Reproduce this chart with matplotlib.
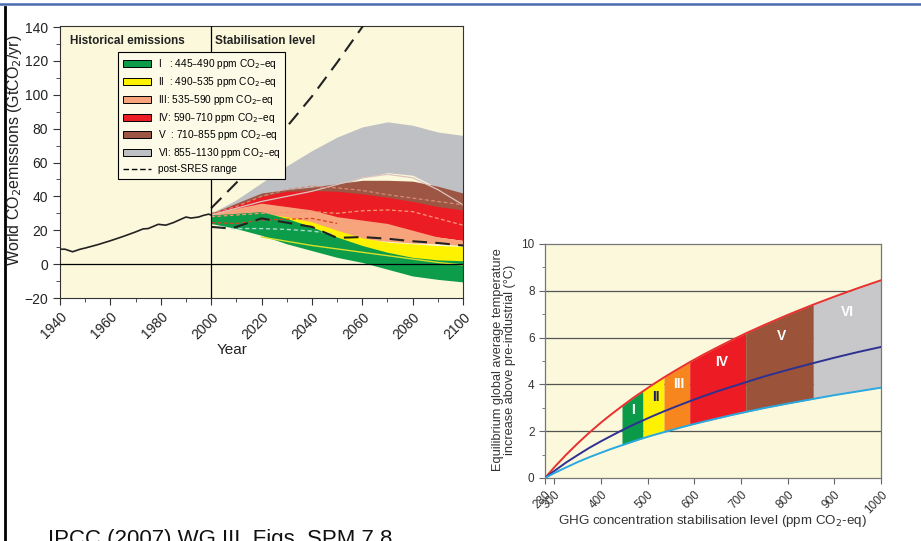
import matplotlib.pyplot as plt
from matplotlib.patches import Patch
from matplotlib.lines import Line2D
from matplotlib.ticker import MultipleLocator

plt.rcParams['font.family'] = ['Liberation Sans Narrow', 'Liberation Sans', 'DejaVu Sans']

# ---- left panel: emission pathways ----
hist_years = [1940, 1942, 1945, 1948, 1950, 1955, 1960, 1965, 1970, 1973, 1975,
              1979, 1982, 1985, 1988, 1990, 1992, 1995, 1997, 1999, 2000]
hist_emis = [8.8, 8.8, 7.3, 8.8, 9.5, 11.5, 13.8, 16.3, 19.0, 20.8, 21.0,
             23.5, 23.0, 24.5, 26.5, 27.8, 27.2, 27.8, 28.8, 29.5, 29.0]

years = [2000, 2010, 2020, 2030, 2040, 2050, 2060, 2070, 2080, 2090, 2100]
cat_vi_hi = [30, 38, 48, 58, 67, 75, 81, 84, 82, 78, 76]
cat_vi_lo = [29, 33, 36, 38, 40, 46, 51, 54, 52.5, 45, 40]
cat_v_hi = [30, 36, 42, 44, 45.5, 47.5, 49.5, 49.5, 49, 46, 42]
cat_v_lo = [28, 30, 33, 35, 37, 38, 37, 35, 33, 31, 30]
cat_iv_hi = [30, 35, 40, 43, 43.5, 43, 41.5, 39.5, 37, 34, 32]
cat_iv_lo = [27, 29, 30, 29, 27, 25, 22, 20, 18, 16, 14]
cat_iii_hi = [30, 33, 36, 34, 32, 28, 26, 24, 20, 16, 14]
cat_iii_lo = [25, 25, 24, 22, 20, 18, 15, 13.5, 12.5, 12, 11]
cat_ii_hi = [28, 29, 30, 28, 25, 20, 15.5, 13, 12, 11, 10.5]
cat_ii_lo = [24, 22, 20, 16, 12, 9, 6, 4, 2.5, 2, 1.5]
cat_i_hi = [29, 30, 31, 27, 22, 16, 11, 7, 4, 2.5, 2]
cat_i_lo = [24, 21, 17, 12, 8, 4, 1, -3, -7, -9, -10.5]

sres_hi_years = [2000, 2010, 2020, 2030, 2040, 2050, 2060, 2062]
sres_hi = [33, 48, 64, 81, 99, 119, 140, 144]
sres_lo_years = [2000, 2008, 2020, 2030, 2040, 2050, 2060, 2070, 2080, 2090, 2100]
sres_lo = [22, 21, 27, 24.5, 22, 15.5, 16, 15, 13.5, 12.5, 11]

# thin median lines inside the bands
med_vi = [29, 33, 37, 40, 43, 47, 51, 53, 51, 44, 35]
med_v = [30, 34, 40, 44, 46, 45, 43.5, 41, 39, 37, 35]
med_iv = [28, 29, 30, 30.5, 31, 30, 31.5, 32, 31, 27, 23]
med_ii = [24.5, 24, 26, 26.5, 27, 24, 20, 17, 14, 12, 10]
med_i_years = [2020, 2030, 2040, 2050, 2060, 2070, 2080, 2090, 2100]
med_i = [16, 13.5, 11, 9, 7, 5, 3, 1, -0.5]
med_i2_years = [2008, 2020, 2030, 2040, 2048]
med_i2 = [21, 21, 20.5, 19.5, 18]

cat_labels = ['I   : 445\u2013490 ppm CO$_2$\u2013eq',
              'II  : 490\u2013535 ppm CO$_2$\u2013eq',
              'III: 535\u2013590 ppm CO$_2$\u2013eq',
              'IV: 590\u2013710 ppm CO$_2$\u2013eq',
              'V  : 710\u2013855 ppm CO$_2$\u2013eq',
              'VI: 855\u20131130 ppm CO$_2$\u2013eq']
left_colors = ['#0c9c4a', '#fff200', '#f7a47c', '#ec1c24', '#9d5544', '#bfc0c4']

# ---- right panel: equilibrium warming ----
conc = [280, 300, 325, 350, 375, 400, 420, 445, 470, 490, 510, 535, 560, 590,
        620, 650, 680, 710, 750, 800, 855, 900, 950, 1000]
temp_hi = [0, 0.46, 0.99, 1.48, 1.94, 2.37, 2.69, 3.07, 3.44, 3.71, 3.98, 4.30,
           4.60, 4.95, 5.28, 5.59, 5.89, 6.18, 6.54, 6.97, 7.41, 7.75, 8.11, 8.45]
temp_mid = [0, 0.30, 0.66, 0.98, 1.29, 1.57, 1.78, 2.04, 2.28, 2.46, 2.64, 2.85,
            3.05, 3.28, 3.50, 3.71, 3.90, 4.09, 4.34, 4.62, 4.91, 5.14, 5.38, 5.60]
temp_lo = [0, 0.21, 0.45, 0.68, 0.89, 1.08, 1.23, 1.40, 1.57, 1.70, 1.82, 1.96,
           2.10, 2.26, 2.41, 2.55, 2.69, 2.82, 2.99, 3.18, 3.38, 3.54, 3.70, 3.86]
cat_names = ['I', 'II', 'III', 'IV', 'V', 'VI']
cat_edges = [445, 490, 535, 590, 710, 855, 1000]
right_colors = ['#0a9a48', '#fff200', '#f7861f', '#ed1c24', '#9b5339', '#c8c8ca']
name_x = [468, 518, 567, 659, 786, 929]
name_y = [2.9, 3.45, 4.0, 4.95, 6.05, 7.1]
name_colors = ['white', '#1b1f6b', 'white', 'white', 'white', 'white']

bg = '#fbf8dc'
fig = plt.figure(figsize=(9.21, 5.41), dpi=100)

# slide decorations
fig.add_artist(Line2D([0, 1], [1 - 4/541, 1 - 4/541], color='#4a6bb0', lw=1.8))
fig.add_artist(Line2D([5/921, 5/921], [0, 1 - 7/541], color='black', lw=2))

ax1 = fig.add_axes([60/921, 1 - 298/541, 403/921, 272/541])
ax1.set_facecolor(bg)
ax1.set_xlim(1940, 2100)
ax1.set_ylim(-20, 140.6)

highs = [cat_i_hi, cat_ii_hi, cat_iii_hi, cat_iv_hi, cat_v_hi, cat_vi_hi]
lows = [cat_i_lo, cat_ii_lo, cat_iii_lo, cat_iv_lo, cat_v_lo, cat_vi_lo]
# draw from VI down to I so the low categories sit on top
for k in range(5, -1, -1):
    ax1.fill_between(years, lows[k], highs[k], color=left_colors[k], lw=0, zorder=1 + (5 - k) * 0.1)

ax1.plot(years, med_vi, color='#dcc4c0', lw=0.9, zorder=2)
ax1.plot(years, med_v, color='#d88a74', lw=0.9, ls=(0, (3, 2)), zorder=2)
ax1.plot(years, med_iv, color='#f59a6e', lw=0.9, ls=(0, (3, 2)), zorder=2)
ax1.plot(years[:6], med_ii[:6], color='#e0401c', lw=0.9, ls=(0, (3, 2)), zorder=2)
ax1.plot(med_i_years, med_i, color='#d8e02a', lw=1, zorder=2)
ax1.plot(med_i2_years, med_i2, color='#a8d8c8', lw=1, ls=(0, (3, 2)), zorder=2)

ax1.plot(sres_hi_years, sres_hi, color='#222222', lw=1.5, ls=(0, (7, 4)), zorder=3)
ax1.plot(sres_lo_years, sres_lo, color='#222222', lw=1.5, ls=(0, (7, 4)), zorder=3)
ax1.plot(hist_years, hist_emis, color='#222222', lw=1.2, zorder=4)

ax1.axhline(0, color='black', lw=0.9, zorder=5)
ax1.axvline(2000, color='black', lw=0.9, zorder=5)

ax1.text(1944, 132, 'Historical emissions', fontsize=8.5, fontweight='bold', va='center', color='#222222')
ax1.text(2001.5, 132, 'Stabilisation level', fontsize=8.5, fontweight='bold', va='center', color='#222222')

ax1.xaxis.set_major_locator(MultipleLocator(20))
ax1.xaxis.set_minor_locator(MultipleLocator(10))
ax1.yaxis.set_major_locator(MultipleLocator(20))
ax1.yaxis.set_minor_locator(MultipleLocator(10))
ax1.tick_params(which='both', direction='out', color='#333333', labelsize=10, labelcolor='#222222')
ax1.tick_params(which='major', length=5)
ax1.tick_params(which='minor', length=3)
ax1.set_yticks([-20, 0, 20, 40, 60, 80, 100, 120, 140])
ax1.set_yticklabels(['\u221220', '0', '20', '40', '60', '80', '100', '120', '140'])
for lab in ax1.get_xticklabels():
    lab.set_rotation(45)
    lab.set_ha('right')
    lab.set_rotation_mode('anchor')
for s in ax1.spines.values():
    s.set_linewidth(0.8)
    s.set_color('#333333')

handles = [Patch(facecolor=c, edgecolor='black', lw=0.7) for c in left_colors]
handles.append(Line2D([], [], color='black', lw=1, ls=(0, (4, 2))))
leg = ax1.legend(handles, cat_labels + ['post-SRES range'], loc='upper left',
                 bbox_to_anchor=((118 - 60) / 403, 1 - (52 - 26) / 272), fontsize=7.3,
                 frameon=True, fancybox=False, edgecolor='black', facecolor='#fdfbe8', framealpha=1,
                 handlelength=2.8, handleheight=0.7, labelspacing=0.38, borderpad=0.5,
                 handletextpad=0.6, borderaxespad=0)
leg.get_frame().set_linewidth(0.8)
leg.set_zorder(6)

fig.text(15/921, 1 - 150/541, 'World CO$_2$emissions (GtCO$_2$/yr)', rotation=90,
         ha='center', va='center', fontsize=11.5, family=['Liberation Sans', 'DejaVu Sans'], color='#222222')
fig.text(232/921, 1 - 350/541, 'Year', ha='center', va='center', fontsize=11,
         family=['Liberation Sans', 'DejaVu Sans'], color='#222222')

# ---- right panel ----
ax2 = fig.add_axes([545/921, 1 - 478/541, 336/921, 234/541])
ax2.set_facecolor(bg)
ax2.set_xlim(280, 1000)
ax2.set_ylim(0, 10)
for yv in [2, 4, 6, 8]:
    ax2.axhline(yv, color='#555555', lw=0.9, zorder=0.5)
for k in range(6):
    sel = [cat_edges[k] <= c <= cat_edges[k + 1] for c in conc]
    ax2.fill_between(conc, temp_lo, temp_hi, where=sel, color=right_colors[k], lw=0, zorder=1)
    ax2.text(name_x[k], name_y[k], cat_names[k], color=name_colors[k], fontsize=10,
             fontweight='bold', ha='center', va='center', zorder=4,
             family=['Liberation Sans Narrow', 'Liberation Sans', 'DejaVu Sans'])
ax2.plot(conc, temp_hi, color='#e8312f', lw=1.4, zorder=3)
ax2.plot(conc, temp_mid, color='#2e3192', lw=1.4, zorder=3)
ax2.plot(conc, temp_lo, color='#29a9e0', lw=1.4, zorder=3)

ax2.set_xticks([280, 300, 400, 500, 600, 700, 800, 900, 1000])
ax2.set_yticks([0, 2, 4, 6, 8, 10])
ax2.yaxis.set_minor_locator(MultipleLocator(1))
ax2.tick_params(which='both', direction='out', color='#666666', labelsize=8.5, labelcolor='#333333')
ax2.tick_params(which='major', length=4)
ax2.tick_params(which='minor', length=2.5)
for lab in ax2.get_xticklabels():
    lab.set_rotation(45)
    lab.set_ha('right')
    lab.set_rotation_mode('anchor')
for s in ax2.spines.values():
    s.set_linewidth(0.9)
    s.set_color('#777777')

fig.text(504/921, 1 - 360/541,
         'Equilibrium global average temperature\nincrease above pre-industrial (\u00b0C)',
         rotation=90, ha='center', va='center', fontsize=9.2, linespacing=1.1,
         family=['Liberation Sans', 'DejaVu Sans'], color='#333333')
fig.text(712/921, 1 - 521/541, 'GHG concentration stabilisation level (ppm CO$_2$-eq)',
         ha='center', va='center', fontsize=9.6, family=['Liberation Sans', 'DejaVu Sans'], color='#333333')

fig.text(48/921, 1 - 529/541, 'IPCC (2007) WG III, Figs. SPM 7,8', ha='left', va='top',
         fontsize=16, family=['Liberation Sans', 'DejaVu Sans'], color='#111111')

fig.savefig('out.png', dpi=100)
